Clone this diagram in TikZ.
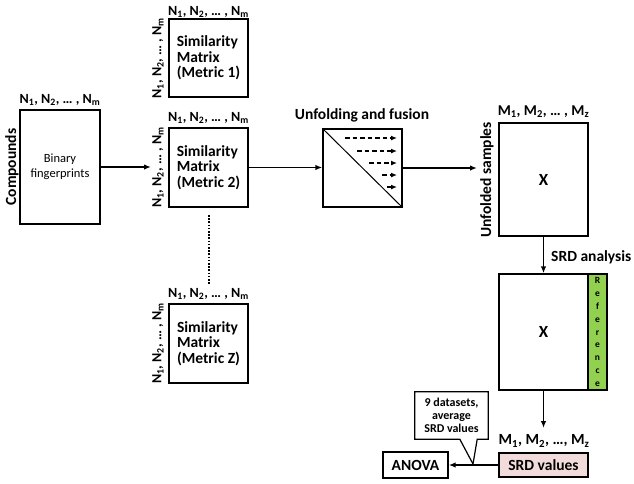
\documentclass[tikz,border=0pt]{standalone}
\usepackage{fontspec}
\setmainfont{Carlito}
\usetikzlibrary{arrows.meta,calc}
\newcommand\NNlab{N\textsubscript{1}, N\textsubscript{2}, … , N\textsubscript{m}}
\begin{document}
\begin{tikzpicture}[x=1pt,y=-1pt,
  box/.style={draw, line width=1.4pt, inner sep=0pt},
  big/.style={font=\bfseries\fontsize{15.5}{15.5}\selectfont, inner sep=0pt},
  lab/.style={font=\bfseries\fontsize{14}{14}\selectfont, inner sep=0pt},
  arr/.style={line width=1.4pt, -{Latex[length=7pt,width=5.5pt]}},
  darr/.style={line width=1.2pt, dash pattern=on 4.5pt off 3pt, -{Latex[length=6pt,width=5pt]}},
  ln/.style={line width=1.4pt}]
\useasboundingbox (0,0) rectangle (634,483);

% Compounds / binary fingerprints
\node[big, rotate=90] (cmp) at (12,167) {Compounds};
\node[box, minimum width=80pt, minimum height=114pt, align=center,
      font=\fontsize{12.5}{15}\selectfont] (bf) at (60,167) {Binary\\fingerprints};
\node[lab] (bfn) at (60,100) {\NNlab};

% Similarity matrices
\node[box, minimum width=79pt, minimum height=78pt] (m1) at (208.5,58) {};
\node[big, align=left] (m1t) at (m1) {Similarity\\Matrix\\(Metric 1)};
\node[lab] (m1n) at (208.5,12) {\NNlab};
\node[lab, rotate=90] (m1l) at (158,58) {\NNlab};

\node[box, minimum width=79pt, minimum height=79pt] (m2) at (208.5,167.5) {};
\node[big, align=left] (m2t) at (m2) {Similarity\\Matrix\\(Metric 2)};
\node[lab] (m2n) at (208.5,118) {\NNlab};
\node[lab, rotate=90] (m2l) at (158,167.5) {\NNlab};

\node[box, minimum width=79pt, minimum height=79pt] (mz) at (208.5,343.5) {};
\node[big, align=left] (mzt) at (mz) {Similarity\\Matrix\\(Metric Z)};
\node[lab] (mzn) at (208.5,294) {\NNlab};
\node[lab, rotate=90] (mzl) at (158,343.5) {\NNlab};

\coordinate (d1) at (209,215);
\coordinate (d2) at (209,284);
\draw[line width=1.6pt, dash pattern=on 1.6pt off 1.6pt] (d1) -- (d2);

\coordinate (a1) at (151,167);
\draw[arr] (bf.east |- a1) -- (a1);

% Unfolding and fusion
\node[box, minimum width=79pt, minimum height=78pt] (uf) at (362.5,168) {};
\node[big] (uft) at (362,115) {Unfolding and fusion};
\draw[line width=1pt] (uf.north west) -- (uf.south east);
\draw[darr] (345,138) -- (397,138);
\draw[darr] (357,151) -- (397,151);
\draw[darr] (369,163) -- (397,163);
\draw[darr] (382,175) -- (397,175);
\draw[line width=1.2pt, -{Latex[length=6pt,width=5pt]}] (387,187) -- (397,187);
\draw[arr] (m2.east) -- (uf.west |- m2.east);

% Unfolded samples
\node[box, minimum width=89pt, minimum height=113pt, font=\bfseries\fontsize{17}{17}\selectfont] (x1) at (543.5,179.5) {X};
\node[lab, font=\bfseries\fontsize{15}{15}\selectfont] (x1n) at (543.5,112) {M\textsubscript{1}, M\textsubscript{2}, … , M\textsubscript{z}};
\node[big, rotate=90] (ufs) at (487,180) {Unfolded samples};
\coordinate (a2) at (477,168);
\draw[arr] (uf.east |- a2) -- (a2);

% SRD analysis
\node[box, minimum width=89pt, minimum height=116pt, font=\bfseries\fontsize{17}{17}\selectfont] (x2) at (543.5,332) {X};
\node[box, fill={rgb,255:red,146;green,208;blue,80}, minimum width=19pt, minimum height=116pt] (ref) at (597.5,332) {};
\node[align=center, inner sep=0pt, font=\bfseries\fontsize{9.5}{12.8}\selectfont] (reft) at (ref) {R\\e\\f\\e\\r\\e\\n\\c\\e};
\draw[arr] (x1.south) -- (x2.north);
\node[big, anchor=west] (srda) at (551,257) {SRD analysis};

% SRD values
\node[lab, font=\bfseries\fontsize{15.5}{15.5}\selectfont] (x2n) at (544,441) {M\textsubscript{1}, M\textsubscript{2}, …, M\textsubscript{z}};
\coordinate (a3) at (543.5,428);
\draw[arr] (x2.south) -- (a3);
\node[box, fill={rgb,255:red,242;green,220;blue,219}, minimum width=89pt, minimum height=24pt, big] (srd) at (543.5,465) {SRD values};
\node[box, minimum width=65pt, minimum height=26pt, big] (anova) at (415.5,465) {ANOVA};
\draw[arr] (srd.west) -- (anova.east);

% Callout
\node[minimum width=73pt, minimum height=47pt, inner sep=0pt, align=center,
      font=\bfseries\fontsize{12}{13.3}\selectfont] (co) at (451.5,415.5) {9 datasets,\\average\\SRD values};
\coordinate (tip) at (473,464);
\draw[line width=1.2pt, line join=miter] (co.north west) -- (co.north east) -- (co.south east)
  -- ($(co.south east)+(-11,0)$) -- (tip) -- ($(co.south west)+(45,0)$) -- (co.south west) -- cycle;
\end{tikzpicture}
\end{document}
